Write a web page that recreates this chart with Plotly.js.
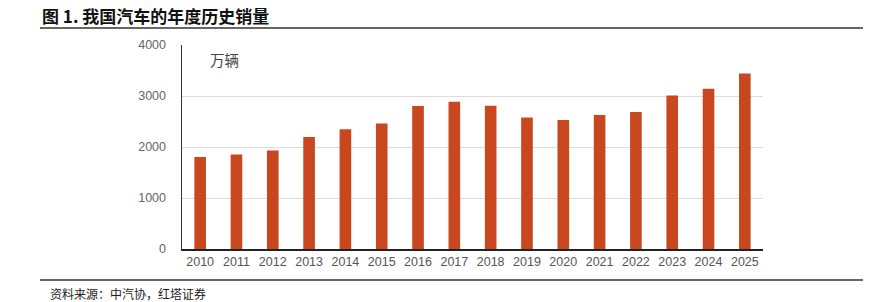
<!DOCTYPE html>
<html>
<head>
<meta charset="utf-8">
<script src="https://cdn.plot.ly/plotly-3.0.1.min.js"></script>
<style>
html,body{margin:0;padding:0;background:#fff;}
#chart{width:882px;height:302px;}
</style>
</head>
<body>
<div id="chart"></div>
<script>
const years = ["2010","2011","2012","2013","2014","2015","2016","2017","2018","2019","2020","2021","2022","2023","2024","2025"];
const sales = [1806,1851,1931,2198,2349,2460,2803,2888,2808,2577,2531,2627,2686,3009,3144,3440];
const yTicks = [0,1000,2000,3000,4000];

const trace = {
  type: "bar",
  x: years,
  y: sales,
  width: 0.32,
  marker: {color: "#C9471F", line: {width: 0}},
  hoverinfo: "skip"
};

const layout = {
  width: 882, height: 302,
  margin: {l: 182, r: 119, t: 45, b: 53},
  paper_bgcolor: "#fff", plot_bgcolor: "#fff",
  showlegend: false,
  xaxis: {
    type: "category",
    range: [-0.5, 15.5],
    showgrid: false,
    showline: true, linecolor: "#222", linewidth: 1.5,
    ticks: "",
    tickfont: {family: "Liberation Sans, Arial, sans-serif", size: 12.5, color: "#555"},
    fixedrange: true
  },
  yaxis: {
    range: [0, 4000],
    tickvals: yTicks,
    ticktext: yTicks.map(String),
    showgrid: true, gridcolor: "#dcdcdc", gridwidth: 1,
    zeroline: false,
    showline: true, linecolor: "#333", linewidth: 1.5,
    ticks: "",
    ticklabelstandoff: 12,
    tickfont: {family: "Liberation Sans, Arial, sans-serif", size: 12.5, color: "#666"},
    fixedrange: true
  },
  annotations: [
    {text: "图 1. 我国汽车的年度历史销量", xref: "paper", yref: "paper", x: 0, y: 1,
     xanchor: "left", yanchor: "middle", showarrow: false,
     font: {family: "Noto Sans CJK SC", size: 17, color: "#111", weight: "bold"}},
    {text: "万辆", xref: "paper", yref: "paper", x: 0, y: 1, showarrow: false,
     xanchor: "left", yanchor: "middle",
     font: {family: "Noto Sans CJK SC", size: 14.5, color: "#444"}},
    {text: "资料来源：中汽协，红塔证券", xref: "paper", yref: "paper", x: 0, y: 0, showarrow: false,
     xanchor: "left", yanchor: "middle",
     font: {family: "Noto Sans CJK SC", size: 12, color: "#222"}}
  ],
  shapes: [
    {type: "line", xref: "paper", yref: "paper", x0: 0, x1: 1, y0: 1, y1: 1,
     line: {color: "#333", width: 1.5}},
    {type: "line", xref: "paper", yref: "paper", x0: 0, x1: 1, y0: 0, y1: 0,
     line: {color: "#333", width: 1.5}}
  ]
};

const W = 882 - 182 - 119, H = 302 - 45 - 53;
function px(x){ return (x - 182) / W; }
function py(y){ return (302 - 53 - y) / H; }
layout.annotations[0].x = px(40); layout.annotations[0].y = py(15);
layout.annotations[1].x = px(208); layout.annotations[1].y = py(59);
layout.annotations[2].x = px(48); layout.annotations[2].y = py(293);
layout.shapes[0].x0 = px(40); layout.shapes[0].x1 = px(863);
layout.shapes[0].y0 = py(28); layout.shapes[0].y1 = py(28);
layout.shapes[1].x0 = px(40); layout.shapes[1].x1 = px(863);
layout.shapes[1].y0 = py(280); layout.shapes[1].y1 = py(280);

Plotly.newPlot("chart", [trace], layout, {displayModeBar: false, staticPlot: true});
</script>
</body>
</html>
